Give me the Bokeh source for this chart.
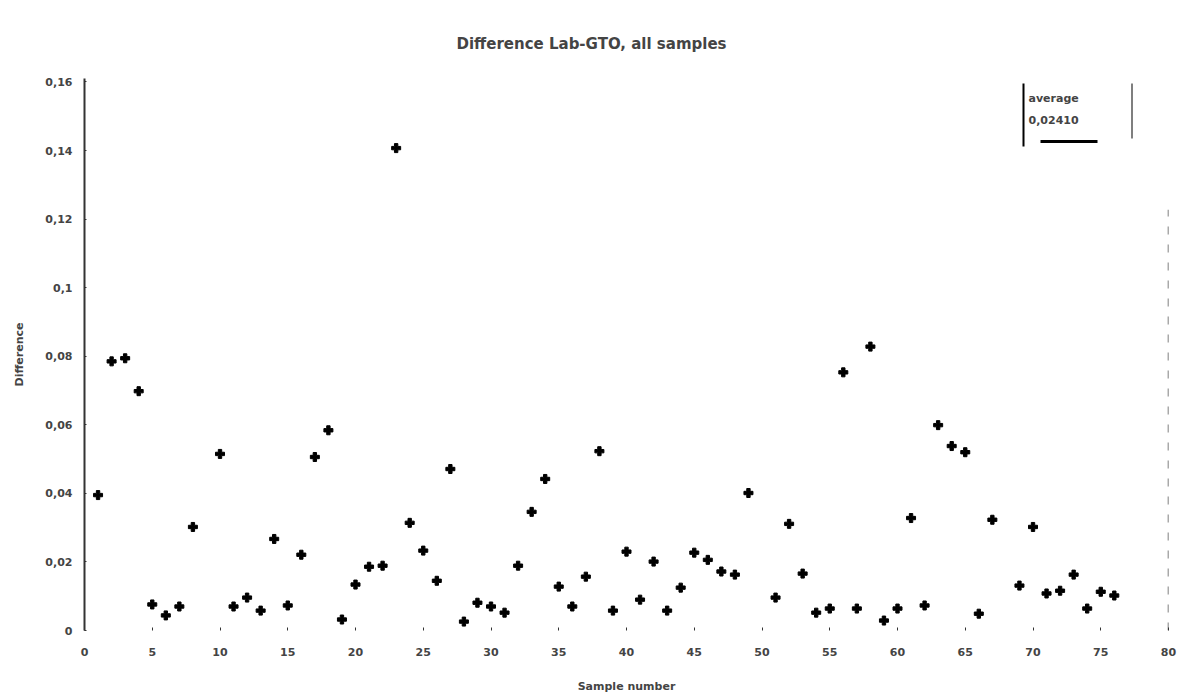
from bokeh.plotting import figure
from bokeh.models import FixedTicker, Label, BoxAnnotation, ColumnDataSource
from bokeh.embed import file_html
from bokeh.resources import INLINE

# ---- data ----
sample_number = [1, 2, 3, 4, 5, 6, 7, 8, 10, 11, 12, 13, 14, 15, 16, 17, 18,
                 19, 20, 21, 22, 23, 24, 25, 26, 27, 28, 29, 30, 31, 32, 33,
                 34, 35, 36, 37, 38, 39, 40, 41, 42, 43, 44, 45, 46, 47, 48,
                 49, 51, 52, 53, 54, 55, 56, 57, 58, 59, 60, 61, 62, 63, 64,
                 65, 66, 67, 69, 70, 71, 72, 73, 74, 75, 76]
difference = [0.0395, 0.0785, 0.0794, 0.0698, 0.0076, 0.0044, 0.0070, 0.0302,
              0.0515, 0.0070, 0.0096, 0.0058, 0.0267, 0.0073, 0.0221, 0.0506,
              0.0584, 0.0032, 0.0134, 0.0186, 0.0189, 0.1407, 0.0314, 0.0233,
              0.0145, 0.0471, 0.0026, 0.0081, 0.0070, 0.0052, 0.0189, 0.0346,
              0.0442, 0.0128, 0.0070, 0.0157, 0.0523, 0.0058, 0.0230, 0.0090,
              0.0201, 0.0058, 0.0125, 0.0227, 0.0206, 0.0172, 0.0163, 0.0401,
              0.0096, 0.0311, 0.0166, 0.0052, 0.0064, 0.0753, 0.0064, 0.0828,
              0.0029, 0.0064, 0.0328, 0.0073, 0.0599, 0.0538, 0.0520, 0.0049,
              0.0323, 0.0131, 0.0302, 0.0108, 0.0116, 0.0163, 0.0064, 0.0113,
              0.0102]
x_ticks = [0, 5, 10, 15, 20, 25, 30, 35, 40, 45, 50, 55, 60, 65, 70, 75, 80]
y_ticks = [0, 0.02, 0.04, 0.06, 0.08, 0.1, 0.12, 0.14, 0.16]
y_tick_labels = ["0", "0,02", "0,04", "0,06", "0,08", "0,1", "0,12", "0,14", "0,16"]
legend_title = "average"
legend_value = "0,02410"
title_text = "Difference Lab-GTO, all samples"
x_label = "Sample number"
y_label = "Difference"
x_max = 80
y_max = 0.161
rule_top = 0.1227

FONT = "DejaVu Sans"

p = figure(width=1178, height=695, output_backend="svg", toolbar_location=None,
           x_range=(0, x_max), y_range=(0, y_max),
           min_border_left=84, min_border_right=10, min_border_top=78,
           min_border_bottom=63)
p.outline_line_color = None
p.xgrid.visible = False
p.ygrid.visible = False
p.background_fill_color = "white"
p.border_fill_color = "white"

p.title.text = title_text
p.title.text_font = FONT
p.title.text_font_style = "bold"
p.title.text_font_size = "15px"
p.title.align = "left"
p.title.offset = 372
p.title.standoff = 52

src = ColumnDataSource(dict(x=sample_number, y=difference))
p.scatter("x", "y", source=src, marker="plus", size=9, color="black")

# dashed rule at right edge
p.segment(x0=[x_max], y0=[0], x1=[x_max], y1=[rule_top],
          line_color="#555555", line_width=1.5, line_dash="8 10")

# axes
xa = p.xaxis[0]
xa.ticker = FixedTicker(ticks=x_ticks)
xa.axis_line_color = None
xa.major_tick_in = 3
xa.major_tick_out = 0
xa.minor_tick_line_color = None
xa.major_tick_line_color = "#333333"
xa.major_label_standoff = 17
xa.major_label_text_font = FONT
xa.major_label_text_font_style = "bold"
xa.major_label_text_font_size = "11px"
xa.axis_label = x_label
xa.axis_label_text_font = FONT
xa.axis_label_text_font_style = "bold"
xa.axis_label_text_font_size = "11px"
xa.axis_label_standoff = 21

ya = p.yaxis[0]
ya.ticker = FixedTicker(ticks=y_ticks)
ya.major_label_overrides = {t: l for t, l in zip(y_ticks, y_tick_labels)}
ya.axis_line_color = "#333333"
ya.axis_line_width = 2
ya.major_tick_in = 2
ya.major_tick_out = 0
ya.minor_tick_line_color = None
ya.major_tick_line_color = "#333333"
ya.major_label_standoff = 12
ya.major_label_text_font = FONT
ya.major_label_text_font_style = "bold"
ya.major_label_text_font_size = "11px"
ya.axis_label = y_label
ya.axis_label_text_font = FONT
ya.axis_label_text_font_style = "bold"
ya.axis_label_text_font_size = "11px"
ya.axis_label_standoff = 16

# legend-like box (frame-relative screen units)
p.add_layout(BoxAnnotation(left=938, right=940, bottom=484, top=547,
                           left_units="screen", right_units="screen",
                           bottom_units="screen", top_units="screen",
                           fill_color="black", fill_alpha=1, line_color=None))
p.add_layout(BoxAnnotation(left=1047, right=1048, bottom=492, top=547,
                           left_units="screen", right_units="screen",
                           bottom_units="screen", top_units="screen",
                           fill_color="black", fill_alpha=1, line_color=None))
p.add_layout(BoxAnnotation(left=956, right=1013, bottom=487.5, top=490.5,
                           left_units="screen", right_units="screen",
                           bottom_units="screen", top_units="screen",
                           fill_color="black", fill_alpha=1, line_color=None))
p.add_layout(Label(x=944, y=532, x_units="screen", y_units="screen",
                   text=legend_title, text_font=FONT, text_font_style="bold",
                   text_font_size="11px", text_baseline="middle", text_align="left"))
p.add_layout(Label(x=944, y=511, x_units="screen", y_units="screen",
                   text=legend_value, text_font=FONT, text_font_style="bold",
                   text_font_size="11px", text_baseline="middle", text_align="left"))

open("out.html", "w").write(file_html(p, INLINE))
